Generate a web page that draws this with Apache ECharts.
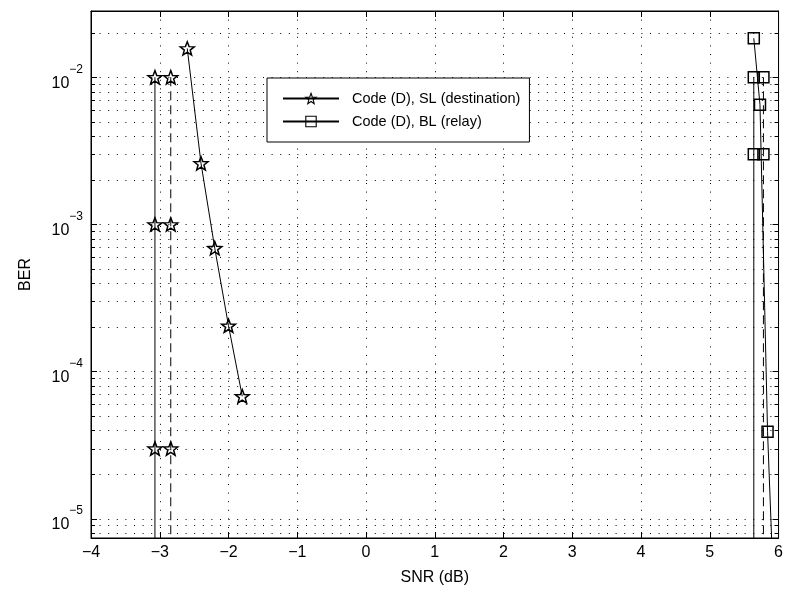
<!DOCTYPE html>
<html><head><meta charset="utf-8">
<script src="https://cdn.jsdelivr.net/npm/echarts@6/dist/echarts.min.js"></script>
<style>html,body{margin:0;padding:0;background:#fff}#c{width:786px;height:597px}</style>
</head><body><div id="c"></div>
<script>
// ---- data ----
const slName = 'Code (D), SL (destination)';
const blName = 'Code (D), BL (relay)';
// SL series (pentagram markers)
const slCurveX = [-2.6, -2.4, -2.2, -2.0, -1.8];
const slCurveY = [1.57e-2, 2.6e-3, 6.9e-4, 2.05e-4, 6.8e-5];
const slSolidX = [-3.07, -3.07, -3.07, -3.07];
const slSolidY = [1e-2, 1e-3, 3e-5, 1e-6];
const slDashX = [-2.84, -2.84, -2.84, -2.84];
const slDashY = [1e-2, 1e-3, 3e-5, 1e-6];
// BL series (square markers)
const blCurveX = [5.64, 5.73, 5.84, 5.97];
const blCurveY = [1.84e-2, 6.5e-3, 3.9e-5, 1e-6];
const blSolidX = [5.64, 5.64, 5.64];
const blSolidY = [1e-2, 3e-3, 1e-6];
const blDashX = [5.78, 5.78, 5.78];
const blDashY = [1e-2, 3e-3, 1e-6];
// axes
const xMin = -4, xMax = 6, xStep = 1;
const yMin = 7.4e-6, yMax = 2.82e-2;
const yMinor = [8e-6, 9e-6,
  2e-5, 3e-5, 4e-5, 5e-5, 6e-5, 7e-5, 8e-5, 9e-5,
  2e-4, 3e-4, 4e-4, 5e-4, 6e-4, 7e-4, 8e-4, 9e-4,
  2e-3, 3e-3, 4e-3, 5e-3, 6e-3, 7e-3, 8e-3, 9e-3,
  2e-2];

// ---- rendering ----
const FONT = '"Liberation Sans", Arial, Helvetica, sans-serif';
const DOT = [1, 7.6];
function starPath() {
  let p = '';
  for (let i = 0; i < 10; i++) {
    const r = i % 2 ? 0.42 : 1;
    const a = -Math.PI / 2 + i * Math.PI / 5;
    p += (i ? 'L' : 'M') + (r * Math.cos(a)).toFixed(4) + ' ' + (r * Math.sin(a)).toFixed(4);
  }
  return 'path://' + p + 'Z';
}
const STAR = starPath();
function mk(name, xs, ys, symbol, size, dashed) {
  return {
    type: 'line', name: name,
    data: xs.map((x, i) => ys[i] < yMin ? { value: [x, ys[i]], symbol: 'none' } : [x, ys[i]]),
    symbol: symbol, symbolSize: size, symbolKeepAspect: true, showAllSymbol: true,
    lineStyle: { color: '#000', width: 1, type: dashed ? [9, 5] : 'solid' },
    itemStyle: { color: 'rgba(255,255,255,0)', borderColor: '#000', borderWidth: 1.5 },
    emphasis: { disabled: true }, silent: true, animation: false, z: 5, clip: true
  };
}
function fmtX(v) { return v < 0 ? '\u2212' + Math.abs(v) : String(v); }
function fmtY(v) {
  const e = Math.log10(v);
  if (Math.abs(e - Math.round(e)) > 1e-6) return '';
  const r = Math.round(e);
  return '{b|10}{s|' + (r < 0 ? '\u2212' + Math.abs(r) : r) + '}';
}
const chart = echarts.init(document.getElementById('c'), null, { renderer: 'canvas' });
chart.setOption({
  animation: false,
  backgroundColor: '#fff',
  textStyle: { fontFamily: FONT },
  grid: { left: 91, right: 5, top: 11, bottom: 59, show: true, borderColor: '#000', borderWidth: 1, backgroundColor: 'transparent' },
  legend: {
    data: [slName, blName], left: 267, top: 78, orient: 'vertical',
    itemWidth: 56, itemHeight: 13, itemGap: 8, padding: [13, 9, 13, 15],
    backgroundColor: '#fff', borderColor: '#000', borderWidth: 1, borderRadius: 0,
    selectedMode: false,
    itemStyle: { color: 'rgba(255,255,255,0)', borderColor: '#000', borderWidth: 1.1 },
    textStyle: { fontSize: 14.5, color: '#000', fontFamily: FONT, padding: [0, 0, 0, 8] }
  },
  xAxis: [{
    type: 'value', min: xMin, max: xMax, interval: xStep, position: 'bottom',
    axisLine: { show: true, onZero: false, lineStyle: { color: '#000', width: 1 } },
    axisTick: { show: true, inside: true, length: 6, lineStyle: { color: '#000' } },
    axisLabel: { color: '#000', fontSize: 16, margin: 7, fontFamily: FONT, formatter: fmtX },
    splitLine: { show: true, lineStyle: { color: '#000', width: 1, type: DOT } },
    name: 'SNR (dB)', nameLocation: 'middle', nameGap: 32,
    nameTextStyle: { color: '#000', fontSize: 16, fontFamily: FONT }
  }, {
    type: 'value', min: xMin, max: xMax, interval: xStep, position: 'top',
    axisLine: { show: true, onZero: false, lineStyle: { color: '#000', width: 1 } },
    axisTick: { show: true, inside: true, length: 6, lineStyle: { color: '#000' } },
    axisLabel: { show: false }, splitLine: { show: false }
  }],
  yAxis: [{
    type: 'log', logBase: 10, min: yMin, max: yMax, position: 'left',
    axisLine: { show: true, onZero: false, lineStyle: { color: '#000', width: 1 } },
    axisTick: { show: true, inside: true, length: 6, lineStyle: { color: '#000' } },
    axisLabel: {
      color: '#000', margin: 8, formatter: fmtY,
      rich: {
        b: { fontSize: 16, fontFamily: FONT, color: '#000', lineHeight: 28, verticalAlign: 'bottom' },
        s: { fontSize: 12, fontFamily: FONT, color: '#000', lineHeight: 12, verticalAlign: 'top' }
      }
    },
    splitLine: { show: true, lineStyle: { color: '#000', width: 1, type: DOT } },
    minorTick: { show: false }, minorSplitLine: { show: false },
    name: 'BER', nameLocation: 'middle', nameGap: 57, nameRotate: 90,
    nameTextStyle: { color: '#000', fontSize: 16, fontFamily: FONT }
  }, {
    type: 'log', logBase: 10, min: yMin, max: yMax, position: 'right',
    axisLine: { show: true, onZero: false, lineStyle: { color: '#000', width: 1 } },
    axisTick: { show: true, inside: true, length: 6, lineStyle: { color: '#000' } },
    axisLabel: { show: false }, splitLine: { show: false }
  }],
  series: [
    mk(slName, slCurveX, slCurveY, STAR, 14, false),
    mk('sl-solid', slSolidX, slSolidY, STAR, 14, false),
    mk('sl-dash', slDashX, slDashY, STAR, 14, true),
    mk(blName, blCurveX, blCurveY, 'rect', 11, false),
    mk('bl-solid', blSolidX, blSolidY, 'rect', 11, false),
    mk('bl-dash', blDashX, blDashY, 'rect', 11, true),
    {
      type: 'custom', name: 'minor-grid', silent: true, z: 1, clip: false, animation: false,
      data: yMinor.map(v => [xMin, v]),
      renderItem: function (params, api) {
        const pt = api.coord([api.value(0), api.value(1)]);
        const cs = params.coordSys;
        const y = Math.round(pt[1]) + 0.5;
        return {
          type: 'group', children: [
            { type: 'line', shape: { x1: cs.x, y1: y, x2: cs.x + cs.width, y2: y }, style: { stroke: '#000', lineWidth: 1, lineDash: DOT } },
            { type: 'line', shape: { x1: cs.x, y1: y, x2: cs.x + 4, y2: y }, style: { stroke: '#000', lineWidth: 1 } },
            { type: 'line', shape: { x1: cs.x + cs.width - 4, y1: y, x2: cs.x + cs.width, y2: y }, style: { stroke: '#000', lineWidth: 1 } }
          ]
        };
      }
    }
  ]
});
</script></body></html>
